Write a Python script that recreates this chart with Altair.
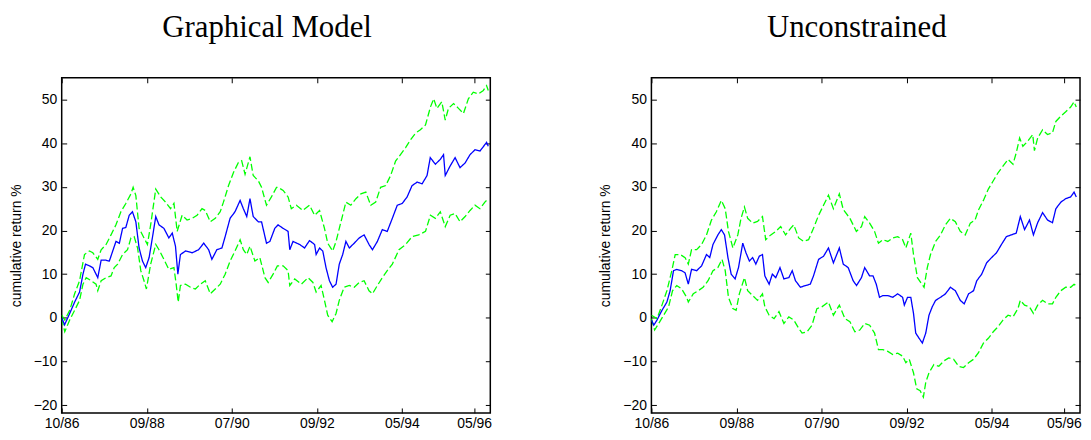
import altair as alt
import pandas as pd

# ---------------- data (trading-day index, cumulative return %) ----------------
TICK_VALUES = [0, 500, 1000, 1500, 2000, 2425]
TICK_LABELS = ["10/86", "09/88", "07/90", "09/92", "05/94", "05/96"]
Y_TICKS = [-20, -10, 0, 10, 20, 30, 40, 50]

# Graphical Model
GM_BLUE_X = [0, 17, 47, 76, 105, 125, 140, 163, 183, 212, 232, 261, 280, 300, 319, 339, 358, 377, 397, 416,
             436, 455, 475, 494, 514, 533, 553, 572, 601, 630, 650, 669, 683, 698, 728, 767, 805, 835, 864, 883,
             912, 942, 961, 990, 1019, 1049, 1068, 1088, 1107, 1126, 1156, 1175, 1204, 1224, 1253, 1272,
             1302, 1331, 1341, 1360, 1399, 1428, 1457, 1487, 1496, 1516, 1535, 1554, 1574, 1593, 1613, 1632,
             1652, 1671, 1691, 1720, 1749, 1778, 1807, 1827, 1856, 1885, 1914, 1944, 1973, 2002, 2031, 2060,
             2090, 2119, 2148, 2167, 2197, 2226, 2245, 2255, 2284, 2313, 2342, 2372, 2401, 2430, 2459, 2498, 2508]
GM_BLUE_Y = [0, -1.6, 1.0, 3.6, 5.9, 10, 12.3, 11.9, 11.5, 9.2, 13.2, 13.2, 13, 15.3, 17.5, 17.1, 20.5, 20.7, 23.5, 24.3,
             22, 16, 13, 11.5, 13.8, 18.3, 23.2, 21.3, 20.5, 18.3, 19.4, 16.4, 10, 14.5, 15.3, 14.9, 15.6, 17.1, 15.6, 13.4,
             15.6, 16, 18.6, 22.8, 24.3, 26.9, 25, 23.2, 27.3, 23.2, 22, 22, 17.1, 17.5, 20.5, 21.3,
             20.5, 19.8, 15.6, 17.5, 16.8, 16, 17.7, 16.8, 14.5, 16, 15.3, 11.5, 8.5, 7, 7.7, 12.3,
             14.5, 17.5, 16, 17.1, 18.3, 19, 16.8, 15.6, 17.5, 20.2, 19.8, 22.8, 25.8, 26.2, 27.7, 30.3,
             31.1, 30.7, 32.6, 36.7, 35.2, 36.3, 37.4, 32.6, 34.8, 36.7, 34.4, 35.5, 37.4, 38.5, 38.2, 40.2, 39.3]

GM_UP_X = [0, 18, 47, 76, 105, 134, 163, 183, 212, 232, 261, 290, 319, 348, 377, 407, 420, 436, 455, 484,
           504, 523, 553, 582, 611, 640, 660, 679, 708, 737, 767, 796, 825, 844, 874, 903, 932, 951, 981, 1010,
           1039, 1058, 1078, 1107, 1126, 1156, 1175, 1204, 1233, 1263,
           1272, 1302, 1331, 1350, 1380, 1418, 1457, 1487, 1516, 1545, 1564, 1593, 1613, 1642, 1671, 1700,
           1730, 1759, 1788, 1817, 1846, 1875, 1905, 1934, 1963, 1992, 2022, 2051, 2080, 2109, 2139, 2168,
           2187, 2206, 2235, 2255, 2274, 2304, 2333, 2362, 2391, 2420, 2450, 2479, 2498, 2508]
GM_UP_Y = [0.6, -0.5, 1.7, 5.5, 8.5, 14.5, 15.3, 14.9, 13.4, 15.6, 16.8, 19, 21.3, 24.3, 26.2, 28.4, 29.9, 28, 20.5, 18.3,
           16.8, 21.3, 29.5, 27.7, 26.5, 25, 26.2, 19.8, 23.5, 22.4, 22.8, 23.5, 25, 24.6, 22, 22.8, 24.3, 26.5, 30.3, 33.3,
           35.6, 36, 32.9, 36.9, 32.6, 31.4, 29.9, 25.8, 27.7, 29.9,
           29.9, 29.2, 27.7, 25, 25.8, 24.6, 25.8, 23.5, 24.6, 20.5, 17.1, 15.3, 17.5, 22, 26.5, 25.8,
           27.3, 28.4, 28.8, 25.8, 26.5, 29.9, 30.3, 32.6, 35.9, 37.4, 39, 40.8, 42.3, 43.1, 44.2, 48.3,
           50.2, 48, 49.5, 45.3, 48, 49.1, 48, 46.8, 50.2, 51.7, 51.3, 52.1, 53.2, 52.1]

GM_LO_X = [0, 18, 47, 76, 105, 125, 144, 173, 202, 212, 232, 261, 290, 309, 329, 358, 387, 407, 426, 446,
           465, 484, 498, 523, 553, 572, 601, 630, 660, 673, 685, 698, 728, 757, 786, 815, 844, 874, 903, 932,
           961, 990, 1019, 1049, 1068, 1088, 1107, 1136, 1165, 1195, 1214, 1243, 1268,
           1302, 1331, 1341, 1370, 1409, 1448, 1477, 1496, 1525, 1545, 1564, 1590, 1613, 1632, 1661, 1691,
           1720, 1749, 1778, 1807, 1827, 1856, 1885, 1914, 1944, 1983, 2022, 2060, 2099, 2139, 2168, 2197,
           2226, 2255, 2284, 2313, 2342, 2372, 2401, 2430, 2459, 2488, 2508]
GM_LO_Y = [-0.2, -3.2, -0.5, 1.7, 4, 7.7, 9.2, 8.5, 7.7, 6.2, 8.5, 9.2, 9.6, 11.5, 12.3, 14.5, 15.6, 18.3, 18.6, 16,
           10.8, 8.5, 6.6, 12.3, 16.8, 15.6, 13.4, 11.1, 11.5, 7.7, 3.6, 7.4, 7.7, 7, 6.6, 7.7, 8.5, 5.5, 6.6, 7.7,
           10, 13, 15.3, 17.9, 15.6, 14.5, 16.4, 13, 13.8, 9.2, 8.1, 10, 11.9,
           11.9, 10.8, 7.4, 8.9, 7.7, 9.2, 8.1, 5.9, 7.4, 4, 0.6, -0.9, 1, 4, 7, 7.4,
           7, 8.1, 8.5, 6.2, 5.5, 7.4, 9.2, 10.8, 12.3, 15.6, 16.8, 18.6, 19, 19.8, 23.5, 22.8,
           24.3, 20.9, 23.5, 23.9, 22, 23.2, 24.6, 25.8, 25, 26.5, 27.3]

# Unconstrained
UC_BLUE_X = [0, 14, 33, 62, 91, 110, 130, 149, 178, 198, 217, 236, 266, 295, 324, 343, 362, 391, 411, 430,
             450, 469, 492, 512, 537, 556, 576, 595, 614, 634, 653, 667, 692, 711, 731, 756, 779, 808, 828, 847,
             876, 905, 934, 953, 983, 1012, 1041, 1070, 1105, 1128, 1157, 1186, 1206, 1235,
             1254, 1283, 1303, 1322, 1341, 1361, 1390, 1419, 1448, 1477, 1487, 1506, 1525, 1541, 1554, 1574,
             1593, 1613, 1632, 1651, 1671, 1700, 1729, 1758, 1787, 1816, 1839, 1865, 1894, 1913, 1942, 1971,
             2000, 2029, 2058, 2087, 2116, 2145, 2169, 2194, 2223, 2246, 2271, 2300, 2329, 2358, 2378, 2407,
             2436, 2465, 2485, 2498]
UC_BLUE_Y = [-0.5, -1.7, -0.5, 1.7, 3.6, 6.2, 10.8, 11.1, 10.8, 10.3, 7.7, 11.1, 10.8, 11.9, 14.5, 13.8, 16.8, 19, 20.2, 19,
             13.8, 10, 8.9, 11.5, 17.1, 14.9, 13, 13.8, 12.3, 14.1, 14.5, 9.6, 7.7, 10, 9.2, 11.5, 8.9, 9.2, 10.8, 8.5,
             7, 7.4, 7.7, 9.6, 13.4, 14.1, 16, 12.6, 16, 12.3, 11.5, 8.5, 7.4, 9.2,
             11.5, 9.6, 9.6, 7.7, 4.7, 5.1, 5.1, 4.7, 5.5, 4.7, 2.9, 4.7, 4.7, 1, -3.5, -4.7,
             -5.8, -3.5, 0.6, 2.5, 4, 4.7, 5.5, 7, 6.2, 4, 3.2, 5.5, 6.2, 8.5, 10, 12.6,
             13.8, 14.9, 16.8, 18.6, 19, 19.4, 23.2, 20.2, 22.4, 19, 21.8, 24.1, 22.4, 21.8, 25, 26.5,
             27.3, 27.7, 28.8, 27.7]

UC_UP_X = [0, 33, 62, 91, 120, 140, 169, 198, 217, 236, 266, 295, 324, 353, 382, 411, 434, 453, 479, 508,
           527, 547, 566, 595, 624, 653, 672, 702, 731, 760, 789, 818, 837, 866, 895, 924, 953, 983, 1012, 1041,
           1070, 1105, 1128, 1167, 1205, 1235,
           1254, 1283, 1312, 1335, 1361, 1390, 1419, 1448, 1477, 1496, 1525, 1541, 1554, 1564, 1583, 1603,
           1622, 1641, 1671, 1700, 1729, 1758, 1787, 1816, 1845, 1875, 1903, 1923, 1952, 1981, 2010, 2039,
           2068, 2097, 2126, 2145, 2165, 2184, 2213, 2242, 2252, 2271, 2300, 2329, 2358, 2378, 2407, 2436,
           2465, 2485, 2498]
UC_UP_Y = [0.6, -0.2, 2.9, 6.2, 10.8, 14.5, 14.5, 13.8, 12.3, 15.6, 15.6, 16.8, 19, 22.4, 24.3, 26.9, 25, 19.8, 16, 19,
           22.8, 25.4, 22.8, 21.7, 22.1, 23.2, 17.9, 19, 19.8, 20.9, 19, 20.5, 21.3, 18.3, 17.5, 17.9, 20.5, 23.5, 25.8, 28.1,
           25, 28.4, 24.8, 22.8, 19.8, 20.9,
           23.2, 21.7, 19.8, 17.1, 17.9, 17.5, 18.3, 18.6, 17.9, 16, 19.4, 14.5, 11.5, 9.2, 8.1, 7,
           11.5, 14.5, 17.5, 19, 21.3, 22.8, 22, 19.8, 19, 21.7, 22.4, 24.7, 26.9, 29.5, 31.4, 33.3,
           34.8, 36.3, 35.2, 37.8, 41.2, 39.3, 40.5, 42, 38.3, 41.2, 43.1, 42, 42.4, 45, 46.2, 47.2,
           48.3, 49.5, 48.3]

UC_LO_X = [0, 19, 43, 72, 101, 124, 149, 178, 207, 217, 246, 275, 304, 333, 362, 391, 415, 434, 453, 479,
           498, 517, 547, 566, 595, 624, 653, 667, 692, 721, 750, 779, 808, 837, 866, 886, 915, 944, 973, 1002,
           1041, 1070, 1105, 1138, 1167, 1196, 1225,
           1254, 1283, 1312, 1335, 1361, 1390, 1419, 1448, 1477, 1496, 1516, 1541, 1560, 1580, 1599, 1613,
           1632, 1661, 1690, 1719, 1748, 1777, 1806, 1835, 1865, 1894, 1923, 1952, 1981, 2010, 2039, 2068,
           2097, 2126, 2155, 2169, 2194, 2223, 2246, 2271, 2300, 2329, 2358, 2378, 2407, 2436, 2465, 2485, 2498]
UC_LO_Y = [-0.2, -2.8, -1.3, 0.6, 2.5, 6.2, 7.4, 6.6, 4.7, 3.6, 5.5, 6.2, 7, 8.5, 10.8, 11.5, 13.4, 10.8, 4.7, 2.1,
           1.7, 5.5, 9.2, 6.2, 5.1, 4, 5.5, 2.5, 0.6, -0.2, 1.4, -1.3, 0.2, -0.5, -2.4, -3.5, -3.2, -1.7, 2.1, 2.5,
           3.6, 0.6, 2.9, -0.2, -0.9, -3.2, -2.8,
           -1.3, -1.7, -3.5, -7.3, -7.3, -7.7, -8.4, -8.1, -8.8, -10.3, -9.5, -12.6, -16.3, -16.7, -18.2, -14.8,
           -12.6, -10.7, -11.1, -9.9, -9.2, -9.5, -11.1, -11.4, -10.3, -9.5, -8, -5.8, -4.7, -3.2, -2, -0.5,
           0.6, 0.2, 2.1, 4, 2.9, 2.5, 1, 2.9, 4, 3.2, 3.2, 4.7, 6.2, 7, 7, 7.7, 7.4]

# ---------------- styling ----------------
BLUE = "#0000ff"
GREEN = "#00ff00"
SANS = "Liberation Sans"
SERIF = "Liberation Serif"
PANEL_W = 431
PANEL_H = 337

label_expr = "".join(f"datum.value == {v} ? '{l}' : " for v, l in zip(TICK_VALUES, TICK_LABELS)) + "''"

x_scale = alt.Scale(domain=[0, 2520], nice=False, zero=False)
y_scale = alt.Scale(domain=[-21.8, 55], nice=False, zero=False)

common = dict(tickColor="black", tickSize=5, tickWidth=1, offset=-5, domain=False, grid=False,
              labelFont=SANS, labelFontSize=14, labelColor="black")

x_bottom = alt.Axis(orient="bottom", values=TICK_VALUES, labelExpr=label_expr, labelPadding=4,
                    labelFlush=False, labelOverlap=False, title=None, **common)
x_top = alt.Axis(orient="top", values=TICK_VALUES, labels=False, title=None, **common)
y_left = alt.Axis(orient="left", values=Y_TICKS, labelPadding=5, labelFlush=False, labelOverlap=False,
                  title="cumulative return %", titleFont=SANS, titleFontSize=14, titleFontWeight="normal",
                  titleColor="black", titlePadding=10, **common)
y_right = alt.Axis(orient="right", values=Y_TICKS, labels=False, title=None, **common)


def line(xs, ys, color, dashed, xaxis, yaxis):
    df = pd.DataFrame({"day": xs, "ret": ys})
    mark = alt.Chart(df).mark_line(color=color, strokeWidth=1.3,
                                   strokeDash=[7, 3] if dashed else [1, 0], clip=True)
    return mark.encode(
        x=alt.X("day:Q", scale=x_scale, axis=xaxis),
        y=alt.Y("ret:Q", scale=y_scale, axis=yaxis),
    )


def panel(title, bx, by, ux, uy, lx, ly):
    up = line(ux, uy, GREEN, True, x_top, y_right)
    lo = line(lx, ly, GREEN, True, None, None)
    bl = line(bx, by, BLUE, False, x_bottom, y_left)
    return alt.layer(up, lo, bl).resolve_axis(x="independent", y="independent").properties(
        width=PANEL_W, height=PANEL_H,
        title=alt.Title(title, font=SERIF, fontSize=31, fontWeight="normal", color="black",
                        anchor="middle", offset=34, dx=-9),
    )


left = panel("Graphical Model", GM_BLUE_X, GM_BLUE_Y, GM_UP_X, GM_UP_Y, GM_LO_X, GM_LO_Y)
right = panel("Unconstrained", UC_BLUE_X, UC_BLUE_Y, UC_UP_X, UC_UP_Y, UC_LO_X, UC_LO_Y)

chart = alt.hconcat(left, right, spacing=105).properties(
    padding={"left": 0, "top": 1, "right": 0, "bottom": 0},
    background="white",
).configure_view(
    stroke="black", strokeWidth=1.5
)

chart.save("out.html", embed_options={"renderer": "svg", "actions": False})
